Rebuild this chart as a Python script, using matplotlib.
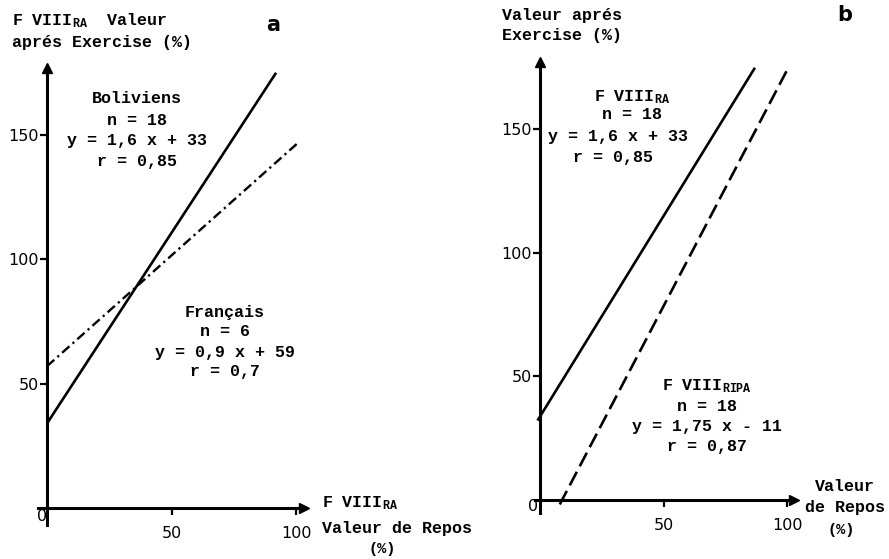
import matplotlib.pyplot as plt

plt.rcParams['font.family'] = ['Liberation Mono', 'DejaVu Sans']
plt.rcParams['font.weight'] = 'bold'
plt.rcParams['mathtext.fontset'] = 'custom'
plt.rcParams['mathtext.rm'] = 'Liberation Mono:bold'
plt.rcParams['mathtext.it'] = 'Liberation Mono:bold'
plt.rcParams['mathtext.bf'] = 'Liberation Mono:bold'
plt.rcParams['lines.scale_dashes'] = False

# regression lines as drawn in the figure (end points, in %)
bol_x = [0, 92]
bol_y = [34, 175]
fra_x = [0, 101]
fra_y = [57, 147]
ra_x = [-1, 87]
ra_y = [32, 175]
ripa_x = [8, 100]
ripa_y = [-2, 174]

x_ticks = [50, 100]
y_ticks = [50, 100, 150]

bol_text = ['Boliviens', 'n = 18', 'y = 1,6 x + 33', 'r = 0,85']
fra_text = ['Français', 'n = 6', 'y = 0,9 x + 59', 'r = 0,7']
ra_text = [r'F VIII$_{\mathrm{RA}}$', 'n = 18', 'y = 1,6 x + 33', 'r = 0,85']
ripa_text = [r'F VIII$_{\mathrm{RIPA}}$', 'n = 18', 'y = 1,75 x - 11', 'r = 0,87']

W, H = 889, 559
XLIM = (-15, 135)
YLIM = (-20, 200)


def place(x0, y0, sx, sy):
    # axes rectangle so that data (0,0) lands on pixel (x0, y0)
    left = x0 + XLIM[0] * sx
    right = x0 + XLIM[1] * sx
    top = y0 - YLIM[1] * sy
    bottom = y0 - YLIM[0] * sy
    return [left / W, 1 - bottom / H, (right - left) / W, (bottom - top) / H]


def setup(ax, xmin, xmax, ymin, ymax):
    ax.set_xlim(*XLIM)
    ax.set_ylim(*YLIM)
    ax.patch.set_visible(False)
    for s in ['top', 'right']:
        ax.spines[s].set_visible(False)
    ax.spines['left'].set_position(('data', 0))
    ax.spines['bottom'].set_position(('data', 0))
    ax.spines['left'].set_bounds(ymin, ymax - 2.5)
    ax.spines['bottom'].set_bounds(xmin, xmax - 2.5)
    for s in ['left', 'bottom']:
        ax.spines[s].set_linewidth(2.2)
    ax.plot(xmax - 2.5, 0, marker='>', color='k', markersize=7, clip_on=False)
    ax.plot(0, ymax - 2.5, marker='^', color='k', markersize=7, clip_on=False)
    ax.set_xticks(x_ticks)
    ax.set_yticks(y_ticks)
    ax.tick_params(axis='both', width=1.6, length=5, labelsize=11.5,
                   direction='out')
    ax.tick_params(axis='x', pad=8)
    ax.tick_params(axis='y', pad=1)
    for lab in ax.get_xticklabels() + ax.get_yticklabels():
        lab.set_fontfamily('DejaVu Sans')
        lab.set_fontweight('normal')


def block(ax, lines, xs, ys):
    for t, x, y in zip(lines, xs, ys):
        ax.text(x, y, t, ha='center', va='center', fontsize=12, clip_on=False)


fig = plt.figure(figsize=(8.89, 5.59), dpi=100)

# panel a
ax1 = fig.add_axes(place(47, 508, 2.49, 2.487))
setup(ax1, -3.6, 105.6, -6.8, 179.5)
ax1.plot(bol_x, bol_y, color='k', lw=1.9, solid_capstyle='butt')
ax1.plot(fra_x, fra_y, color='k', lw=1.7, dashes=(7, 3, 1.6, 3))
block(ax1, bol_text, [36] * 4, [164.5, 156, 147.6, 139.5])
block(ax1, fra_text, [71.5] * 4, [78.8, 70.8, 62.7, 54.7])
ax1.text(-14.1, 194.2, r'F VIII$_{\mathrm{RA}}$  Valeur', fontsize=12, va='baseline', clip_on=False)
ax1.text(-14.1, 185.4, 'aprés Exercise (%)', fontsize=12, va='baseline', clip_on=False)
ax1.text(90.8, 194.2, 'a', fontsize=15, ha='center', va='center',
         family='DejaVu Sans', weight='bold', clip_on=False)
ax1.text(110.4, 2, r'F VIII$_{\mathrm{RA}}$', fontsize=12, va='center', clip_on=False)
ax1.text(110.4, -8.4, 'Valeur de Repos', fontsize=12, va='center', clip_on=False)
ax1.text(134.5, -16.5, '(%)', fontsize=11, ha='center', va='center', clip_on=False)
ax1.text(-2, -3.6, '0', fontsize=11.5, ha='center', va='center',
         family='DejaVu Sans', weight='normal', clip_on=False)

# panel b
ax2 = fig.add_axes(place(540, 499.5, 2.47, 2.467))
setup(ax2, -2, 105.3, -5.5, 180)
ax2.plot(ra_x, ra_y, color='k', lw=1.9, solid_capstyle='butt')
ax2.plot(ripa_x, ripa_y, color='k', lw=1.9, dashes=(11, 4.5))
block(ax2, ra_text, [37.2, 37.2, 31.6, 29.6], [163.2, 155.9, 147.3, 138.8])
block(ax2, ripa_text, [67.6] * 4, [46, 37.5, 29.4, 21.3])
ax2.text(-15.4, 194.4, 'Valeur aprés', fontsize=12, va='baseline', clip_on=False)
ax2.text(-15.4, 186.3, 'Exercise (%)', fontsize=12, va='baseline', clip_on=False)
ax2.text(123.5, 196.4, 'b', fontsize=15, ha='center', va='center',
         family='DejaVu Sans', weight='bold', clip_on=False)
ax2.text(123.5, 5.1, 'Valeur', fontsize=12, ha='center', va='center', clip_on=False)
ax2.text(123.5, -3.2, 'de Repos', fontsize=12, ha='center', va='center', clip_on=False)
ax2.text(122, -12.4, '(%)', fontsize=11, ha='center', va='center', clip_on=False)
ax2.text(-2.8, -3, '0', fontsize=11.5, ha='center', va='center',
         family='DejaVu Sans', weight='normal', clip_on=False)

fig.savefig('out.png', dpi=100)
